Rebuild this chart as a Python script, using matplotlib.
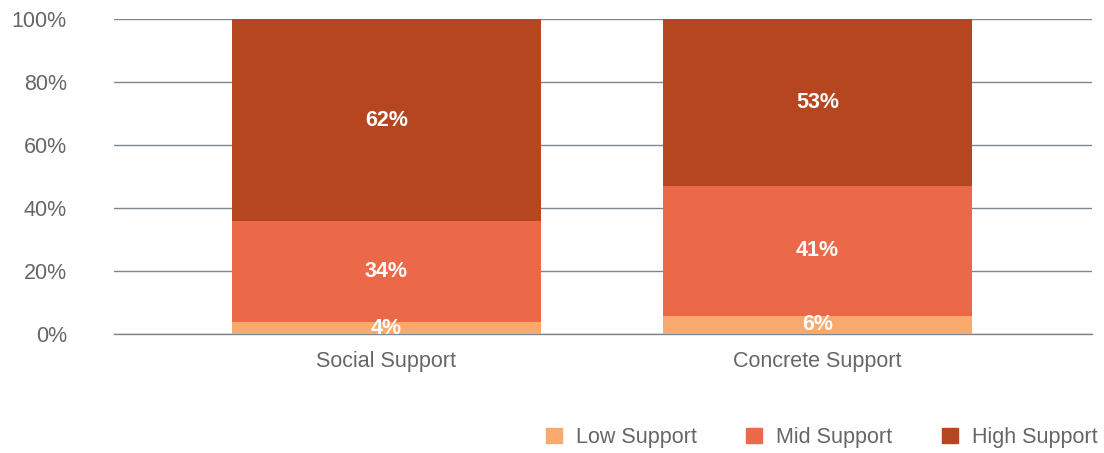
import numpy as np
import matplotlib
matplotlib.use('Agg')
import matplotlib.pyplot as plt
from matplotlib.patches import Patch

categories = ["Social Support", "Concrete Support"]
# bar heights as drawn in the reference (percent)
low = [3.8, 5.8]
mid = [32.0, 41.2]
high = [64.2, 53.0]
# value labels printed on the segments
low_labels = ["4%", "6%"]
mid_labels = ["34%", "41%"]
high_labels = ["62%", "53%"]
series_names = ["Low Support", "Mid Support", "High Support"]
colors = ["#F8A96B", "#EB6848", "#B5461F"]

plt.rcParams['font.family'] = ['Liberation Sans', 'DejaVu Sans']

fig = plt.figure(figsize=(11.04, 4.53), dpi=100)
ax = fig.add_axes([0.1033, 0.2627, 0.8858, 0.6953])

x = np.arange(len(categories))
width = 0.717
bottom = np.zeros(len(categories))
for vals, labs, c in zip([low, mid, high], [low_labels, mid_labels, high_labels], colors):
    vals = np.array(vals, dtype=float)
    ax.bar(x, vals, width, bottom=bottom, color=c, zorder=3)
    for xi, b, v, lab in zip(x, bottom, vals, labs):
        ax.text(xi, b + v / 2, lab, ha='center', va='center',
                color='white', fontsize=15.5, fontweight='bold', zorder=4)
    bottom += vals

ax.set_xlim(-0.632, 1.637)
ax.set_ylim(0, 100)
ax.set_yticks(range(0, 101, 20))
ax.set_yticklabels([f"{t}%" for t in range(0, 101, 20)])
ax.yaxis.grid(True, color='#7f868d', linewidth=1, zorder=0)
ax.set_xticks(x)
ax.set_xticklabels(categories)
ax.tick_params(length=0, colors='#666666', labelsize=15.5)
ax.tick_params(axis='x', pad=12)
ax.tick_params(axis='y', pad=34)
for s in ['top', 'left', 'right']:
    ax.spines[s].set_visible(False)
ax.spines['bottom'].set_color('#7f868d')
ax.spines['bottom'].set_linewidth(1)

handles = [Patch(color=c, label=n) for c, n in zip(colors, series_names)]
leg = fig.legend(handles=handles, loc='lower right', bbox_to_anchor=(1.012, -0.032),
                 ncol=3, frameon=False, fontsize=15.5, handlelength=0.75,
                 handleheight=0.75, columnspacing=2.3, handletextpad=0.65)
for t in leg.get_texts():
    t.set_color('#666666')

fig.savefig('out.png', dpi=100)
